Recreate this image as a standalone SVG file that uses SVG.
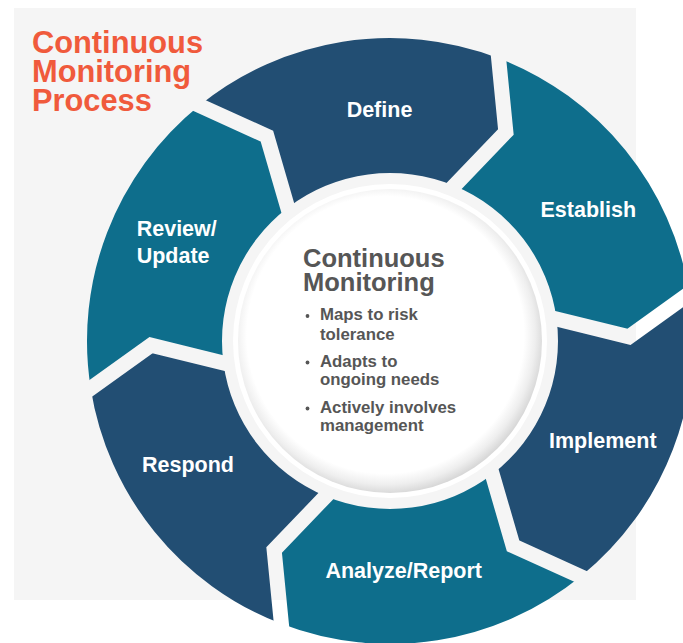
<svg xmlns="http://www.w3.org/2000/svg" width="683" height="643" viewBox="0 0 683 643">
  <style>
    .navy { fill: #224e73; }
    .teal { fill: #0e6e8c; }
    .seg-label { font-family: "Liberation Sans", Arial, sans-serif; font-weight: bold; font-size: 21.5px; fill: #ffffff; }
    .title { font-family: "Liberation Sans", Arial, sans-serif; font-weight: bold; font-size: 30.8px; fill: #f05a3c; }
    .hub-head { font-family: "Liberation Sans", Arial, sans-serif; font-weight: bold; font-size: 25.5px; fill: #565656; }
    .hub-item { font-family: "Liberation Sans", Arial, sans-serif; font-weight: bold; font-size: 16.8px; fill: #565656; }
    .dot { fill: #565656; }
  </style>
  <defs>
    <mask id="gapMask" maskUnits="userSpaceOnUse" x="0" y="0" width="683" height="643">
      <rect x="0" y="0" width="683" height="643" fill="#fff"/>
      <g fill="none" stroke="#000" stroke-width="15" stroke-linejoin="miter" stroke-miterlimit="10">
        <polyline points="719.4,272.0 689.27,293.60 628.96,336.83 556.56,319.07 534.8,313.7"/>
        <polyline points="494.95,21.21 498.59,58.13 505.87,131.97 454.29,185.79 438.8,201.9"/>
        <polyline points="165.5,90.2 199.32,105.52 266.91,136.14 287.73,207.72 294.0,229.2"/>
        <polyline points="60.6,410.0 90.73,388.40 151.04,345.17 223.44,362.93 245.2,368.3"/>
        <polyline points="285.05,660.8 281.41,623.87 274.13,550.03 325.71,496.21 341.2,480.1"/>
        <polyline points="614.5,591.8 580.68,576.48 513.09,545.86 492.27,474.28 486.0,452.8"/>
      </g>
    </mask>
    <radialGradient id="hubShade" cx="0.485" cy="0.48" r="0.53">
      <stop offset="0" stop-color="#ffffff"/>
      <stop offset="0.86" stop-color="#ffffff"/>
      <stop offset="0.93" stop-color="#eeeeee"/>
      <stop offset="1" stop-color="#d2d2d2"/>
    </radialGradient>
  </defs>

  <rect x="14" y="8" width="622" height="592" fill="#f5f5f5"/>

  <g id="title">
    <text class="title"><tspan x="32" y="53">Continuous</tspan><tspan x="32" y="82">Monitoring</tspan><tspan x="32" y="111">Process</tspan></text>
  </g>

  <g id="connectors"></g>

  <g id="node-establish">
    <path class="teal" mask="url(#gapMask)" d="M498.59,58.13 A303,303 0 0 1 689.27,293.60 L628.96,336.83 L556.56,319.07 A168,168 0 0 0 454.29,185.79 L505.87,131.97 Z"/>
    <text class="seg-label" x="588.3" y="216.7" text-anchor="middle">Establish</text>
  </g>

  <g id="node-define">
    <path class="navy" mask="url(#gapMask)" d="M199.32,105.52 A303,303 0 0 1 498.59,58.13 L505.87,131.97 L454.29,185.79 A168,168 0 0 0 287.73,207.72 L266.91,136.14 Z"/>
    <text class="seg-label" x="379.5" y="117.3" text-anchor="middle">Define</text>
  </g>

  <g id="node-review">
    <path class="teal" mask="url(#gapMask)" d="M90.73,388.40 A303,303 0 0 1 199.32,105.52 L266.91,136.14 L287.73,207.72 A168,168 0 0 0 223.44,362.93 L151.04,345.17 Z"/>
    <text class="seg-label"><tspan x="136.7" y="235.7">Review/</tspan><tspan x="136.7" y="263.3">Update</tspan></text>
  </g>

  <g id="node-respond">
    <path class="navy" mask="url(#gapMask)" d="M281.41,623.87 A303,303 0 0 1 90.73,388.40 L151.04,345.17 L223.44,362.93 A168,168 0 0 0 325.71,496.21 L274.13,550.03 Z"/>
    <text class="seg-label" x="188" y="472.3" text-anchor="middle">Respond</text>
  </g>

  <g id="node-analyze">
    <path class="teal" mask="url(#gapMask)" d="M580.68,576.48 A303,303 0 0 1 281.41,623.87 L274.13,550.03 L325.71,496.21 A168,168 0 0 0 492.27,474.28 L513.09,545.86 Z"/>
    <text class="seg-label" x="403.7" y="578.3" text-anchor="middle">Analyze/Report</text>
  </g>

  <g id="node-implement">
    <path class="navy" mask="url(#gapMask)" d="M689.27,293.60 A303,303 0 0 1 580.68,576.48 L513.09,545.86 L492.27,474.28 A168,168 0 0 0 556.56,319.07 L628.96,336.83 Z"/>
    <text class="seg-label" x="602.8" y="448.3" text-anchor="middle">Implement</text>
  </g>

  <g id="node-hub">
    <circle cx="390" cy="341" r="157" fill="#ffffff"/>
    <circle cx="390" cy="341" r="152" fill="url(#hubShade)"/>
    <text class="hub-head"><tspan x="303" y="267">Continuous</tspan><tspan x="303" y="291">Monitoring</tspan></text>
    <circle class="dot" cx="307.5" cy="316" r="1.9"/>
    <circle class="dot" cx="307.5" cy="362.5" r="1.9"/>
    <circle class="dot" cx="307.5" cy="408.5" r="1.9"/>
    <text class="hub-item"><tspan x="320" y="320">Maps to risk</tspan><tspan x="320" y="339.5">tolerance</tspan><tspan x="320" y="366.5">Adapts to</tspan><tspan x="320" y="384.5">ongoing needs</tspan><tspan x="320" y="412.5">Actively involves</tspan><tspan x="320" y="430.5">management</tspan></text>
  </g>
</svg>
